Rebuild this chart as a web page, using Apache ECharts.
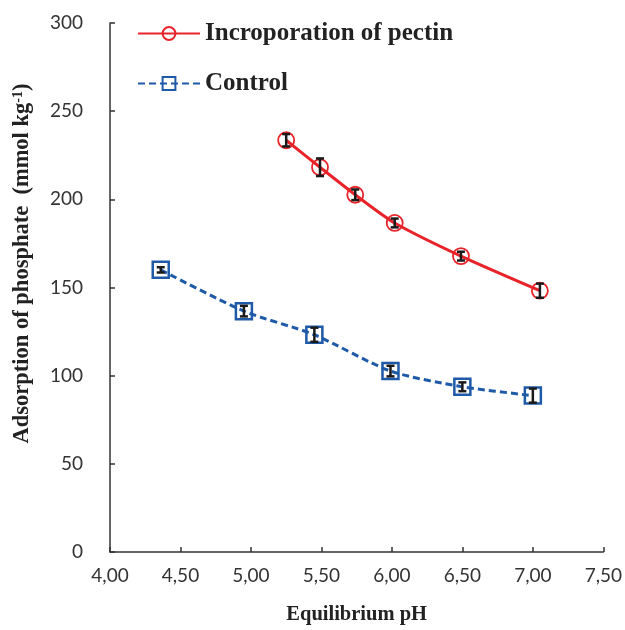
<!DOCTYPE html>
<html>
<head>
<meta charset="utf-8">
<script src="https://cdn.jsdelivr.net/npm/echarts@6/dist/echarts.min.js"></script>
<style>
  html, body { margin: 0; padding: 0; background: #fff; }
  #main { width: 625px; height: 630px; }
</style>
</head>
<body>
<div id="main"></div>
<script>
// data
const phPectin = [5.25, 5.49, 5.74, 6.02, 6.49, 7.05];
const pectin = [233.5, 218.2, 202.6, 186.6, 167.8, 148.2];
const pectinErr = [3.5, 5, 3, 2.5, 2.5, 4];

const phControl = [4.36, 4.95, 5.45, 5.99, 6.50, 7.00];
const control = [160, 136.6, 123.2, 102.6, 93.7, 88.7];
const controlErr = [1.5, 3, 4, 3, 2.5, 4];

const chart = echarts.init(document.getElementById('main'));

function pairs(xs, ys) {
  return xs.map((x, i) => [x, ys[i]]);
}
function errData(xs, ys, es) {
  return xs.map((x, i) => [x, ys[i], es[i]]);
}

// error bars: black vertical line with caps
function renderErr(params, api) {
  const x = api.value(0), y = api.value(1), e = api.value(2);
  const top = api.coord([x, y + e]);
  const bot = api.coord([x, y - e]);
  const w = 4;
  const style = { stroke: '#1a1a1a', lineWidth: 2.5 };
  return {
    type: 'group',
    children: [
      { type: 'line', shape: { x1: top[0], y1: top[1], x2: bot[0], y2: bot[1] }, style: style },
      { type: 'line', shape: { x1: top[0] - w, y1: top[1], x2: top[0] + w, y2: top[1] }, style: style },
      { type: 'line', shape: { x1: bot[0] - w, y1: bot[1], x2: bot[0] + w, y2: bot[1] }, style: style }
    ]
  };
}

const serif = '"Liberation Serif", "DejaVu Serif", serif';
const sans = 'Lato, "Open Sans", sans-serif';

const option = {
  animation: false,
  grid: { left: 110, right: 21, top: 23, bottom: 71 },
  legend: {
    orient: 'vertical',
    left: 137,
    top: 21,
    padding: 0,
    itemWidth: 62,
    itemHeight: 16,
    itemGap: 25,
    textStyle: { fontFamily: serif, fontWeight: 'bold', fontSize: 25, color: '#222' },
    data: ['Incroporation of pectin', 'Control']
  },
  xAxis: {
    type: 'value',
    min: 4,
    max: 7.5,
    interval: 0.5,
    name: 'Equilibrium pH',
    nameLocation: 'middle',
    nameGap: 52,
    nameTextStyle: { fontFamily: serif, fontWeight: 'bold', fontSize: 20.5, color: '#222' },
    axisLine: { lineStyle: { color: '#333', width: 1.5 } },
    axisTick: { inside: true, length: 5, lineStyle: { color: '#333', width: 1.5 } },
    axisLabel: {
      margin: 14,
      fontFamily: sans,
      fontSize: 19,
      color: '#333',
      formatter: v => v.toFixed(2).replace('.', ',')
    },
    splitLine: { show: false }
  },
  yAxis: {
    type: 'value',
    min: 0,
    max: 300,
    interval: 50,
    name: '{a|Adsorption of phosphate  (mmol kg}{s|-1}{a|)}',
    nameLocation: 'middle',
    nameGap: 76,
    nameRotate: 90,
    nameTextStyle: {
      padding: [0, 0, 0, 48],
      rich: {
        a: { fontFamily: serif, fontWeight: 'bold', fontSize: 22.5, color: '#222' },
        s: { fontFamily: serif, fontWeight: 'bold', fontSize: 14, color: '#222', verticalAlign: 'top', padding: [0, 0, 9, 0] }
      }
    },
    axisLine: { show: true, lineStyle: { color: '#333', width: 1.5 } },
    axisTick: { show: true, inside: true, length: 5, lineStyle: { color: '#333', width: 1.5 } },
    axisLabel: { margin: 27, fontFamily: sans, fontSize: 19, color: '#333' },
    splitLine: { show: false }
  },
  series: [
    {
      name: 'Incroporation of pectin',
      type: 'line',
      smooth: 0.25,
      data: pairs(phPectin, pectin),
      symbol: 'circle',
      symbolSize: 16,
      lineStyle: { color: '#e8242a', width: 3 },
      itemStyle: { color: 'rgba(255,255,255,0)', borderColor: '#e8242a', borderWidth: 1.8 },
      z: 3
    },
    {
      name: 'Control',
      type: 'line',
      smooth: 0.25,
      data: pairs(phControl, control),
      symbol: 'rect',
      symbolSize: 16,
      lineStyle: { color: '#1f5aa8', width: 3, type: [7, 4] },
      itemStyle: { color: 'rgba(255,255,255,0)', borderColor: '#1f5aa8', borderWidth: 2.5 },
      z: 3
    },
    {
      type: 'custom',
      renderItem: renderErr,
      data: errData(phPectin, pectin, pectinErr),
      encode: { x: 0, y: 1 },
      z: 4,
      silent: true
    },
    {
      type: 'custom',
      renderItem: renderErr,
      data: errData(phControl, control, controlErr),
      encode: { x: 0, y: 1 },
      z: 4,
      silent: true
    }
  ]
};

chart.setOption(option);
</script>
</body>
</html>
